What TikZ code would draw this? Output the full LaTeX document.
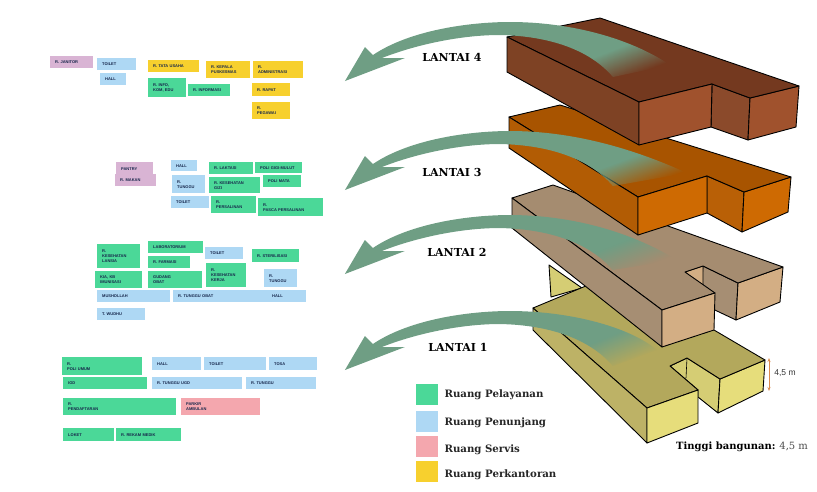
\documentclass[tikz,border=0pt]{standalone}
\usepackage{fontspec}
\setmainfont{Liberation Sans}
\newfontfamily\labelfont{DejaVu Serif}
\usetikzlibrary{arrows.meta,fadings}
\definecolor{arrowgreen}{HTML}{6F9E84}
\definecolor{pelayanan}{HTML}{4BD898}
\definecolor{penunjang}{HTML}{AED8F4}
\definecolor{servis}{HTML}{F4A7AE}
\definecolor{kantor}{HTML}{F7D02E}
\definecolor{ungu}{HTML}{D9B4D4}
\definecolor{roomtext}{HTML}{16264A}
\definecolor{heightmark}{HTML}{DB8A4E}
\definecolor{satutop}{HTML}{B3A85C}
\definecolor{satuside}{HTML}{BDB266}
\definecolor{satufront}{HTML}{E6DD7B}
\definecolor{satuwall}{HTML}{D5CD74}
\definecolor{duatop}{HTML}{A58C70}
\definecolor{duaside}{HTML}{A68E73}
\definecolor{duafront}{HTML}{D3AE84}
\definecolor{tigatop}{HTML}{A85400}
\definecolor{tigaside}{HTML}{B25C04}
\definecolor{tigafront}{HTML}{CE6A02}
\definecolor{tigawall}{HTML}{B96006}
\definecolor{empattop}{HTML}{74391F}
\definecolor{empatside}{HTML}{7E4224}
\definecolor{empatfront}{HTML}{A0522D}
\definecolor{empatwall}{HTML}{8B4A2B}
\pgfdeclarehorizontalshading{tailshade}{100bp}{color(0bp)=(pgftransparent!0); color(64bp)=(pgftransparent!0); color(76bp)=(pgftransparent!100); color(100bp)=(pgftransparent!100)}
\pgfdeclarefading{tailfade}{\pgfuseshading{tailshade}}
\newcommand{\levelarrow}[3]{
  \fill[arrowgreen, shift={(0,#1)}, path fading=tailfade, fading angle=-25]
    (345,81) -- (365,47) -- (373,55) .. controls (410,30) and (470,22) .. (510,22)
    .. controls (570,22) and (630,38) .. (#2,#3) -- (613,77)
    .. controls (590,50) and (550,36) .. (500,35) .. controls (460,35) and (415,45) .. (382,58)
    -- (405,58) -- cycle;
}
\begin{document}
\begin{tikzpicture}[x=1pt, y=-1pt,
  face/.style={draw=black, line width=0.9pt, line join=round},
  lantai/.style={font=\labelfont\bfseries\fontsize{11}{13}\selectfont, black},
  legendbox/.style={minimum width=22pt, minimum height=21pt, inner sep=0pt, anchor=north west},
  legendtext/.style={font=\labelfont\bfseries\fontsize{10.2}{12}\selectfont, anchor=west, black!85},
  room/.style={anchor=north west, inner xsep=5pt, inner ysep=0pt, align=left, text=roomtext,
    font=\bfseries\fontsize{4}{5}\selectfont}
]
  \useasboundingbox (0,0) rectangle (817,491);
  % lantai 1
  \filldraw[face, fill=satuwall] (549,265) -- (582,288) -- (551,297) -- cycle;
  \filldraw[face, fill=satuwall] (687,358) -- (720,379) -- (718,413) -- (698,397) -- (698,390) -- (670,366) -- cycle;
  \draw[face, line width=0.6pt] (687,358) -- (686,378);
  \filldraw[face, fill=satufront] (720,379) -- (765,360) -- (763,391) -- (718,413) -- cycle;
  \filldraw[face, fill=satutop] (533,308) -- (617,273) -- (765,360) -- (720,379) -- (687,358) -- (670,366) -- (698,390) -- (647,408) -- cycle;
  \filldraw[face, fill=satuside] (533,308) -- (647,408) -- (647,443) -- (533,330) -- cycle;
  \filldraw[face, fill=satufront] (647,408) -- (698,390) -- (698,423) -- (647,443) -- cycle;
  \levelarrow{289}{657}{61}
  % lantai 2
  \filldraw[face, fill=duaside] (703,266) -- (738,283) -- (736,320) -- (700,303) -- cycle;
  \filldraw[face, fill=duafront] (685,272) -- (703,266) -- (703,290) -- cycle;
  \filldraw[face, fill=duafront] (738,283) -- (783,267) -- (780,302) -- (736,320) -- cycle;
  \filldraw[face, fill=duatop] (512,198) -- (553,185) -- (783,267) -- (738,283) -- (703,266) -- (685,272) -- (715,293) -- (662,310) -- cycle;
  \filldraw[face, fill=duaside] (512,198) -- (662,310) -- (662,347) -- (512,228) -- cycle;
  \filldraw[face, fill=duafront] (662,310) -- (715,293) -- (714,330) -- (662,347) -- cycle;
  \levelarrow{193}{677}{67}
  % lantai 3
  \filldraw[face, fill=tigawall] (707,176) -- (744,192) -- (742,232) -- (707,213) -- cycle;
  \filldraw[face, fill=tigafront] (744,192) -- (791,177) -- (788,212) -- (742,232) -- cycle;
  \filldraw[face, fill=tigatop] (509,117) -- (560,105) -- (791,177) -- (744,192) -- (707,176) -- (638,197) -- cycle;
  \filldraw[face, fill=tigaside] (509,117) -- (638,197) -- (638,235) -- (509,148) -- cycle;
  \filldraw[face, fill=tigafront] (638,197) -- (707,176) -- (707,213) -- (638,235) -- cycle;
  \levelarrow{109}{687}{64}
  % lantai 4
  \filldraw[face, fill=empatwall] (712,84) -- (750,98) -- (748,140) -- (711,127) -- cycle;
  \filldraw[face, fill=empatfront] (750,98) -- (799,86) -- (796,127) -- (748,140) -- cycle;
  \filldraw[face, fill=empattop] (507,37) -- (600,18) -- (799,86) -- (750,98) -- (712,84) -- (639,102) -- cycle;
  \filldraw[face, fill=empatside] (507,37) -- (639,102) -- (639,145) -- (507,72) -- cycle;
  \filldraw[face, fill=empatfront] (639,102) -- (712,84) -- (711,127) -- (639,145) -- cycle;
  \levelarrow{0}{670}{65}
  % labels
  \node[lantai] (lantaiempat) at (452,57) {LANTAI 4};
  \node[lantai] (lantaitiga) at (452,172) {LANTAI 3};
  \node[lantai] (lantaidua) at (457,252) {LANTAI 2};
  \node[lantai] (lantaisatu) at (458,347) {LANTAI 1};
  % rooms
  \foreach \nm/\x/\y/\w/\h/\c/\t in {
    ljanitor/50/56/43/12/ungu/{R. JANITOR}, ltoilet/97/58/39/12/penunjang/{TOILET},
    lhall/100/73/26/12/penunjang/{HALL}, ltata/148/60/51/12/kantor/{R. TATA USAHA},
    lkepala/206/61/44/17/kantor/{R. KEPALA\\PUSKESMAS}, ladmin/253/61/50/17/kantor/{R.\\ADMINISTRASI},
    linfo/148/78/38/19/pelayanan/{R. INFO,\\KOM, EDU}, linformasi/188/84/42/12/pelayanan/{R. INFORMASI},
    lrapat/252/83/38/13/kantor/{R. RAPAT}, lpegawai/252/102/38/17/kantor/{R.\\PEGAWAI},
    cpantry/116/162/37/14/ungu/{PANTRY}, cmakan/115/174/41/12/ungu/{R. MAKAN},
    chall/171/160/26/11/penunjang/{HALL}, ctunggu/172/175/33/18/penunjang/{R.\\TUNGGU},
    ctoilet/171/196/38/12/penunjang/{TOILET}, claktasi/209/162/44/12/pelayanan/{R. LAKTASI},
    cpoligigi/255/162/47/11/pelayanan/{POLI GIGI-MULUT}, cpolimata/263/175/38/12/pelayanan/{POLI MATA},
    cgizi/209/177/51/16/pelayanan/{R. KESEHATAN\\GIZI}, cpersalinan/211/196/45/17/pelayanan/{R.\\PERSALINAN},
    cpasca/258/198/65/18/pelayanan/{R.\\PASCA PERSALINAN},
    blansia/97/244/43/24/pelayanan/{R.\\KESEHATAN\\LANSIA}, blab/148/241/55/12/pelayanan/{LABORATORIUM},
    bfarmasi/148/256/42/12/pelayanan/{R. FARMASI}, btoilet/205/247/38/12/penunjang/{TOILET},
    bsteril/252/249/47/13/pelayanan/{R. STERILISASI}, bkerja/206/263/40/24/pelayanan/{R.\\KESEHATAN\\KERJA},
    btunggu/264/269/33/18/penunjang/{R.\\TUNGGU}, bkia/95/271/47/17/pelayanan/{KIA, KB\\IMUNISASI},
    bgudang/148/271/54/17/pelayanan/{GUDANG\\OBAT}, bmusholla/97/290/73/12/penunjang/{MUSHOLLAH},
    bobat/173/290/133/12/penunjang/{R. TUNGGU OBAT}, bwudhu/97/308/48/12/penunjang/{T. WUDHU},
    apoli/62/357/80/18/pelayanan/{R.\\POLI UMUM}, aigd/63/377/84/12/pelayanan/{IGD},
    adaftar/63/398/113/17/pelayanan/{R.\\PENDAFTARAN}, aloket/63/428/51/13/pelayanan/{LOKET},
    arekam/116/428/65/13/pelayanan/{R. REKAM MEDIK}, ahall/152/357/49/13/penunjang/{HALL},
    atoilet/204/357/62/13/penunjang/{TOILET}, atosa/269/357/48/13/penunjang/{TOSA},
    augd/152/377/90/12/penunjang/{R. TUNGGU UGD}, atunggu/246/377/70/12/penunjang/{R. TUNGGU},
    aparkir/181/398/79/17/servis/{PARKIR\\AMBULAN}}{
    \node[room, fill=\c, text width=\w*1pt-10pt, minimum height=\h*1pt] (\nm) at (\x,\y) {\t};
  }
  \node[room] (bhall) at (267,291) [minimum height=10pt] {HALL};
  % legend
  \node[legendbox, fill=pelayanan] (kotaksatu) at (416,384) {};
  \node[legendbox, fill=penunjang] (kotakdua) at (416,411) {};
  \node[legendbox, fill=servis] (kotaktiga) at (416,436) {};
  \node[legendbox, fill=kantor] (kotakempat) at (416,461) {};
  \node[legendtext] (teksatu) at (441,395) {Ruang Pelayanan};
  \node[legendtext] (teksdua) at (441,423) {Ruang Penunjang};
  \node[legendtext] (tekstiga) at (441,450) {Ruang Servis};
  \node[legendtext] (teksempat) at (441,475) {Ruang Perkantoran};
  % tinggi
  \coordinate (atas) at (769,358);
  \coordinate (bawah) at (769,391);
  \draw[heightmark, thick, {Stealth[length=4pt]}-{Stealth[length=4pt]}] (atas) -- (bawah);
  \node[font=\fontsize{8.5}{10}\selectfont, black!80] (tinggi) at (785,373) {4,5 m};
  \node[font=\fontsize{10}{12}\selectfont, anchor=west, inner sep=0pt] (keterangan) at (676,447) {{\labelfont\bfseries Tinggi bangunan:} {\labelfont\color{black!70}4,5 m}};
\end{tikzpicture}
\end{document}
